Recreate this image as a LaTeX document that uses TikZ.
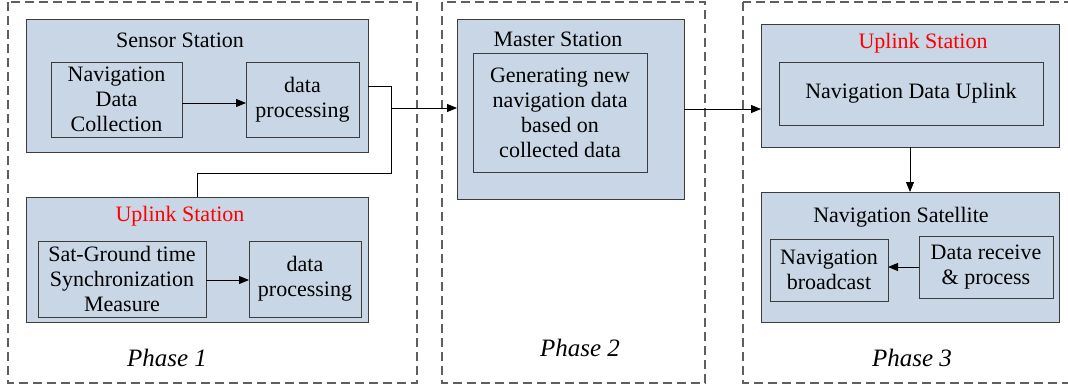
\documentclass[tikz,border=0pt]{standalone}
\usepackage{fontspec}
\newfontfamily\timesf{Liberation Serif}
\usetikzlibrary{arrows.meta}
\definecolor{boxfill}{RGB}{200,214,229}
\definecolor{boxline}{RGB}{60,60,60}
\definecolor{dashline}{RGB}{95,95,95}
\definecolor{titlered}{RGB}{255,0,0}
\tikzset{
  phasebox/.style={draw=dashline, line width=1.3pt, dash pattern=on 9pt off 5pt},
  outerbox/.style={draw=boxline, fill=boxfill, line width=0.9pt, inner sep=0pt, outer sep=0pt},
  innerbox/.style={draw=boxline, fill=boxfill, line width=0.9pt, inner sep=0pt, outer sep=0pt, align=center,
    font=\timesf\fontsize{22}{25}\selectfont},
  titletext/.style={inner sep=0pt, font=\timesf\fontsize{22}{25}\selectfont},
  phasetext/.style={inner sep=0pt, font=\timesf\fontsize{25}{28}\selectfont\itshape},
  conn/.style={draw=black, line width=0.9pt},
  arr/.style={conn, -{Triangle[length=10pt,width=8pt]}}
}
\begin{document}
\begin{tikzpicture}[x=1pt,y=-1pt]
\clip (0,0) rectangle (1068,388);
\fill[white] (0,0) rectangle (1068,388);
% phase frames
\draw[phasebox] (8,2) rectangle (417,383);
\draw[phasebox] (442,2) rectangle (705,383);
\draw[phasebox] (743,2) rectangle (1080,383);
% Phase 1: sensor station
\node[outerbox, minimum width=342pt, minimum height=133pt] (sensor) at (197,85.5) {};
\node[titletext] (sensortitle) at (180,40) {Sensor Station};
\node[innerbox, minimum width=131pt, minimum height=75pt] (ndc) at (116.5,99.5) {Navigation\\Data\\Collection};
\node[innerbox, minimum width=113pt, minimum height=75pt] (dp1) at (302.5,99.5) {data\\processing};
\draw[arr] ([yshift=-3.5pt]ndc.east) -- ([yshift=-3.5pt]dp1.west);
% Phase 1: uplink station
\node[outerbox, minimum width=342pt, minimum height=125pt] (uplink1) at (197,259.5) {};
\node[titletext, text=titlered] (uplink1title) at (180,216) {Uplink Station};
\node[innerbox, minimum width=168pt, minimum height=76pt] (sg) at (122,279) {Sat-Ground time\\Synchronization\\Measure};
\node[innerbox, minimum width=112pt, minimum height=76pt] (dp2) at (305,279) {data\\processing};
\draw[arr] ([yshift=-1pt]sg.east) -- ([yshift=-1pt]dp2.west);
\node[phasetext] (phase1) at (167,358) {Phase 1};
% Phase 2: master station
\node[outerbox, minimum width=227pt, minimum height=180pt] (master) at (570.5,109) {};
\node[titletext] (mastertitle) at (558,39) {Master Station};
\node[innerbox, minimum width=174pt, minimum height=119pt] (gen) at (560,112.5) {Generating new\\navigation data\\based on\\collected data};
\node[phasetext] (phase2) at (580,348) {Phase 2};
% Phase 3
\node[outerbox, minimum width=298pt, minimum height=123pt] (uplink3) at (910,85.5) {};
\node[titletext, text=titlered] (uplink3title) at (923,43) {Uplink Station};
\node[innerbox, minimum width=264pt, minimum height=63pt] (ndu) at (911,93.5) {Navigation Data Uplink};
\node[outerbox, minimum width=298pt, minimum height=130pt] (sat) at (910,257) {};
\node[titletext] (sattitle) at (901,217) {Navigation Satellite};
\node[innerbox, minimum width=118pt, minimum height=62pt] (nb) at (829,270) {Navigation\\broadcast};
\node[innerbox, minimum width=134pt, minimum height=62pt] (dr) at (986,267) {Data receive\\\&\ process};
\draw[arr] (dr.west) -- (nb.east |- dr.west);
\draw[arr] (uplink3.south) -- (sat.north);
\node[phasetext] (phase3) at (912,358) {Phase 3};
% connectors between phases
\coordinate (joint) at (391,108);
\draw[conn] (sensor.east |- 0,86) -- (391,86) -- (391,173) -- (197,173) -- (uplink1.north);
\draw[arr] (joint) -- (master.west |- joint);
\draw[arr] (master.east) -- (uplink3.west |- master.east);
\end{tikzpicture}
\end{document}
